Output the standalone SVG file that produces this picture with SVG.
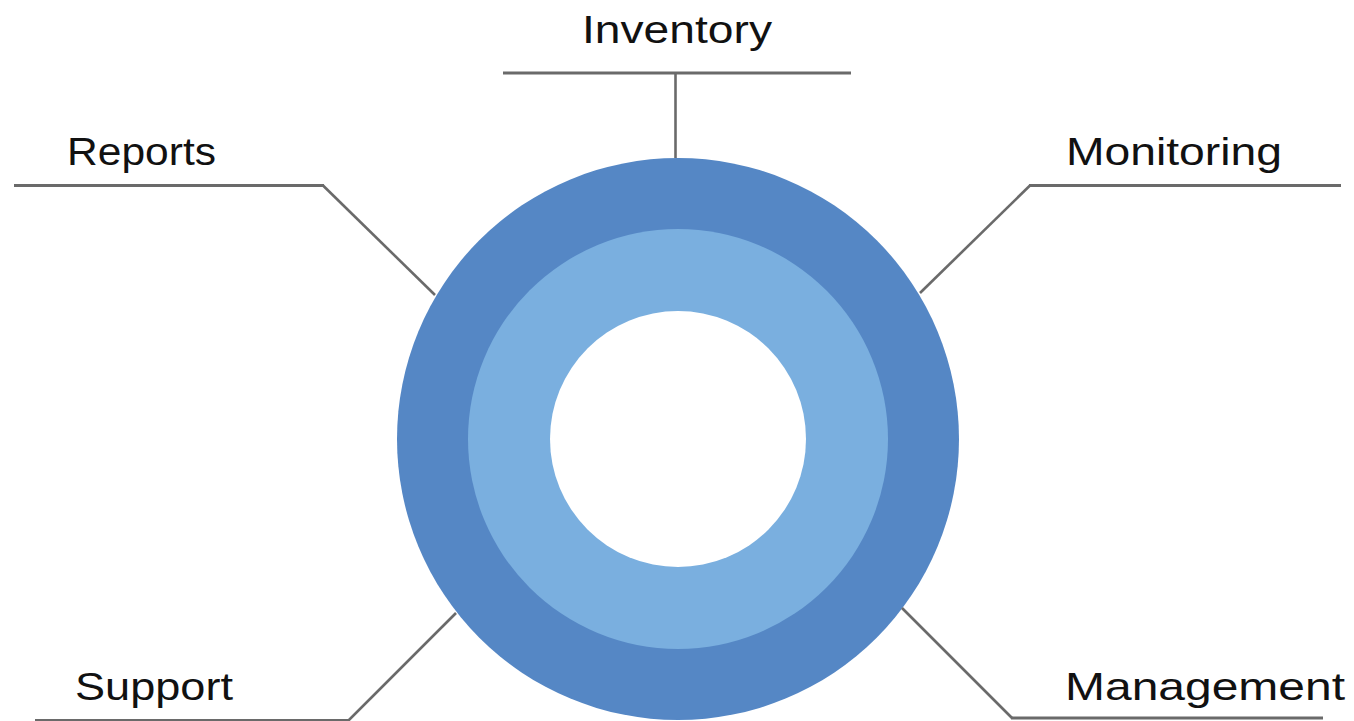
<svg xmlns="http://www.w3.org/2000/svg" width="1354" height="721" viewBox="0 0 1354 721">
<style>
.lbl{font-family:"Liberation Sans","DejaVu Sans",sans-serif;font-size:39px;fill:#111}
.ln{fill:none;stroke:#6a6a6a;stroke-width:2.6;stroke-linejoin:miter}
.hz{stroke-width:3.2}
</style>
<rect width="1354" height="721" fill="#ffffff"/>
<g id="ring">
<circle cx="678" cy="439" r="281" fill="#5587c5"/>
<circle cx="678" cy="439" r="210" fill="#7aafdf"/>
<circle cx="678" cy="439" r="128" fill="#ffffff"/>
</g>
<g id="connectors">
<line class="ln hz" x1="503" y1="73" x2="851" y2="73"/>
<line class="ln" x1="675.5" y1="73" x2="675.5" y2="158"/>
<polyline class="ln" points="435,295 323,185.5"/>
<line class="ln hz" x1="14" y1="185.5" x2="324" y2="185.5"/>
<polyline class="ln" points="920,293 1030,185.5"/>
<line class="ln hz" x1="1029" y1="185.5" x2="1341" y2="185.5"/>
<polyline class="ln" points="456,613 348,721"/>
<line class="ln hz" x1="35" y1="720.5" x2="349" y2="720.5"/>
<polyline class="ln" points="902,608 1012,718"/>
<line class="ln hz" x1="1011" y1="718" x2="1323" y2="718"/>
</g>
<g id="inventory"><text class="lbl" x="582" y="43" textLength="190" lengthAdjust="spacingAndGlyphs">Inventory</text></g>
<g id="reports"><text class="lbl" x="67" y="165" textLength="149" lengthAdjust="spacingAndGlyphs">Reports</text></g>
<g id="monitoring"><text class="lbl" x="1066" y="165" textLength="216" lengthAdjust="spacingAndGlyphs">Monitoring</text></g>
<g id="support"><text class="lbl" x="75" y="700" textLength="158" lengthAdjust="spacingAndGlyphs">Support</text></g>
<g id="management"><text class="lbl" x="1065" y="700" textLength="280" lengthAdjust="spacingAndGlyphs">Management</text></g>
</svg>
